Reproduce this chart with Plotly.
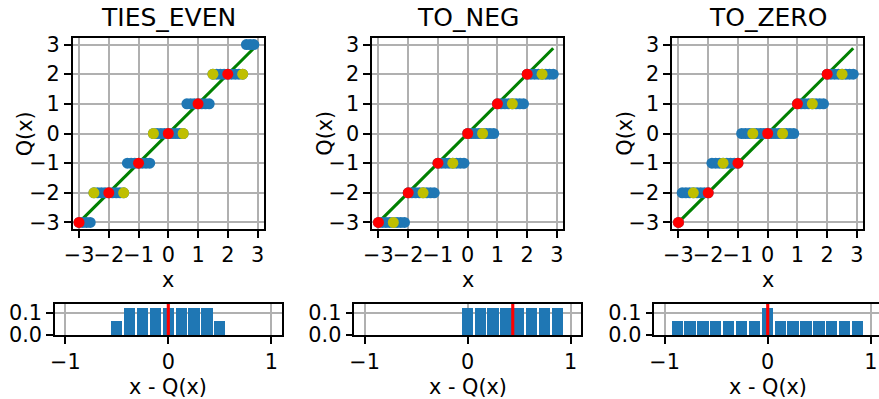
import plotly.graph_objects as go

# ---------------- data ----------------
MODES = ["TIES_EVEN", "TO_NEG", "TO_ZERO"]

X_SAMPLES = [-3.0, -2.875, -2.75, -2.625, -2.5, -2.375, -2.25, -2.125,
             -2.0, -1.875, -1.75, -1.625, -1.5, -1.375, -1.25, -1.125,
             -1.0, -0.875, -0.75, -0.625, -0.5, -0.375, -0.25, -0.125,
             0.0, 0.125, 0.25, 0.375, 0.5, 0.625, 0.75, 0.875,
             1.0, 1.125, 1.25, 1.375, 1.5, 1.625, 1.75, 1.875,
             2.0, 2.125, 2.25, 2.375, 2.5, 2.625, 2.75, 2.875]

Q_TIES_EVEN = [-3, -3, -3, -3, -2, -2, -2, -2,
               -2, -2, -2, -2, -2, -1, -1, -1,
               -1, -1, -1, -1, 0, 0, 0, 0,
               0, 0, 0, 0, 0, 1, 1, 1,
               1, 1, 1, 1, 2, 2, 2, 2,
               2, 2, 2, 2, 2, 3, 3, 3]
Q_TO_NEG = [-3, -3, -3, -3, -3, -3, -3, -3,
            -2, -2, -2, -2, -2, -2, -2, -2,
            -1, -1, -1, -1, -1, -1, -1, -1,
            0, 0, 0, 0, 0, 0, 0, 0,
            1, 1, 1, 1, 1, 1, 1, 1,
            2, 2, 2, 2, 2, 2, 2, 2]
Q_TO_ZERO = [-3, -2, -2, -2, -2, -2, -2, -2,
             -2, -1, -1, -1, -1, -1, -1, -1,
             -1, 0, 0, 0, 0, 0, 0, 0,
             0, 0, 0, 0, 0, 0, 0, 0,
             1, 1, 1, 1, 1, 1, 1, 1,
             2, 2, 2, 2, 2, 2, 2, 2]
Q_BLUE = [Q_TIES_EVEN, Q_TO_NEG, Q_TO_ZERO]

X_INT = [-3, -2, -1, 0, 1, 2]
Q_INT = [[-3, -2, -1, 0, 1, 2], [-3, -2, -1, 0, 1, 2], [-3, -2, -1, 0, 1, 2]]

X_HALF = [-2.5, -1.5, -0.5, 0.5, 1.5, 2.5]
Q_HALF = [[-2, -2, 0, 0, 2, 2], [-3, -2, -1, 0, 1, 2], [-2, -1, 0, 0, 1, 2]]

HIST_X = [
    [-0.5, -0.375, -0.25, -0.125, 0.0, 0.125, 0.25, 0.375, 0.5],
    [0.0, 0.125, 0.25, 0.375, 0.5, 0.625, 0.75, 0.875],
    [-0.875, -0.75, -0.625, -0.5, -0.375, -0.25, -0.125, 0.0,
     0.125, 0.25, 0.375, 0.5, 0.625, 0.75, 0.875],
]
HIST_Y = [
    [0.0625, 0.125, 0.125, 0.125, 0.125, 0.125, 0.125, 0.125, 0.0625],
    [0.125, 0.125, 0.125, 0.125, 0.125, 0.125, 0.125, 0.125],
    [0.0625, 0.0625, 0.0625, 0.0625, 0.0625, 0.0625, 0.0625, 0.125,
     0.0625, 0.0625, 0.0625, 0.0625, 0.0625, 0.0625, 0.0625],
]
MEANS = [0.0, 0.4375, 0.0]

TOP_TICKS = [-3, -2, -1, 0, 1, 2, 3]
TOP_TICKTEXT = ["\u22123", "\u22122", "\u22121", "0", "1", "2", "3"]
HIST_XTICKS = [-1, 0, 1]
HIST_XTICKTEXT = ["\u22121", "0", "1"]
HIST_YTICKS = [0.0, 0.1]
HIST_YTICKTEXT = ["0.0", "0.1"]

# ---------------- layout helpers ----------------
W, H = 879, 399
FONT = "DejaVu Sans"
BLUE, RED, YEL, GRN = "#1f77b4", "#ff0000", "#bfbf00", "#008000"


def px(v):
    return v / W


def py(v):
    return 1 - v / H


TOP_XD = [(72.8, 263.8), (372.2, 563.2), (672.2, 863.2)]
TOP_YD = (38.3, 228.7)
HIST_XD = [(55.0, 281.6), (354.4, 581.0), (654.4, 879.0)]
HIST_YD = (304.0, 335.0)
CENTERS = [168.3, 467.7, 767.7]
HIST_RANGES = [[-1.1, 1.1], [-1.1, 1.1], [-1.1, 1.08]]

fig = go.Figure()


def axis_common(**kw):
    d = dict(showgrid=True, gridcolor="#b0b0b0", gridwidth=1.6,
             showline=True, linecolor="black", linewidth=1.6, mirror=True,
             ticks="outside", ticklen=7, tickwidth=1.6, tickcolor="black",
             zeroline=False, automargin=False, fixedrange=True, tickangle=0,
             tickfont=dict(family=FONT, size=20.8, color="black"))
    d.update(kw)
    return d


layout_axes = {}
for i in range(3):
    tx = "x" if i == 0 else f"x{i + 1}"
    ty = "y" if i == 0 else f"y{i + 1}"
    hx = f"x{i + 4}"
    hy = f"y{i + 4}"

    fig.add_trace(go.Scatter(x=X_SAMPLES, y=X_SAMPLES, mode="lines",
                             line=dict(color=GRN, width=3.1),
                             xaxis=tx, yaxis=ty, hoverinfo="skip"))
    fig.add_trace(go.Scatter(x=X_SAMPLES, y=Q_BLUE[i], mode="markers",
                             marker=dict(color=BLUE, size=11, line=dict(width=0)),
                             xaxis=tx, yaxis=ty))
    fig.add_trace(go.Scatter(x=X_INT, y=Q_INT[i], mode="markers",
                             marker=dict(color=RED, size=11, line=dict(width=0)),
                             xaxis=tx, yaxis=ty))
    fig.add_trace(go.Scatter(x=X_HALF, y=Q_HALF[i], mode="markers",
                             marker=dict(color=YEL, size=11, line=dict(width=0)),
                             xaxis=tx, yaxis=ty))
    fig.add_trace(go.Bar(x=HIST_X[i], y=HIST_Y[i], width=0.11,
                         marker=dict(color=BLUE, line=dict(width=0)),
                         xaxis=hx, yaxis=hy))
    fig.add_shape(type="line", xref=hx, yref=f"{hy} domain",
                  x0=MEANS[i], x1=MEANS[i], y0=0, y1=1,
                  line=dict(color=RED, width=3.1))

    kx = "xaxis" if i == 0 else f"xaxis{i + 1}"
    ky = "yaxis" if i == 0 else f"yaxis{i + 1}"
    layout_axes[kx] = axis_common(domain=[px(TOP_XD[i][0]), px(TOP_XD[i][1])],
                                  range=[-3.21, 3.21], anchor=ty,
                                  tickvals=TOP_TICKS, ticktext=TOP_TICKTEXT)
    layout_axes[ky] = axis_common(domain=[py(TOP_YD[1]), py(TOP_YD[0])],
                                  range=[-3.21, 3.21], anchor=tx,
                                  tickvals=TOP_TICKS, ticktext=TOP_TICKTEXT)
    layout_axes[f"xaxis{i + 4}"] = axis_common(
        domain=[px(HIST_XD[i][0]), min(1.0, px(HIST_XD[i][1]))],
        range=HIST_RANGES[i], anchor=hy,
        tickvals=HIST_XTICKS, ticktext=HIST_XTICKTEXT)
    layout_axes[f"yaxis{i + 4}"] = axis_common(
        domain=[py(HIST_YD[1]), py(HIST_YD[0])],
        range=[0, 0.141], anchor=hx, mirror=(i != 2),
        tickvals=HIST_YTICKS, ticktext=HIST_YTICKTEXT)

annotations = []
for i in range(3):
    annotations.append(dict(text=MODES[i], x=px(CENTERS[i]), y=py(17.5),
                            xref="paper", yref="paper", showarrow=False,
                            xanchor="center", yanchor="middle",
                            font=dict(family=FONT, size=25, color="black")))
    annotations.append(dict(text="x", x=px(CENTERS[i]), y=py(279.5),
                            xref="paper", yref="paper", showarrow=False,
                            xanchor="center", yanchor="middle",
                            font=dict(family=FONT, size=20.8, color="black")))
    annotations.append(dict(text="x - Q(x)", x=px(CENTERS[i]), y=py(386.5),
                            xref="paper", yref="paper", showarrow=False,
                            xanchor="center", yanchor="middle",
                            font=dict(family=FONT, size=20.8, color="black")))
    annotations.append(dict(text="Q(x)", x=px(TOP_XD[i][0] - 48), y=py(133.5),
                            xref="paper", yref="paper", showarrow=False,
                            xanchor="center", yanchor="middle", textangle=-90,
                            font=dict(family=FONT, size=20.8, color="black")))

fig.update_layout(
    width=W, height=H, margin=dict(l=0, r=0, t=0, b=0, pad=0),
    paper_bgcolor="white", plot_bgcolor="white", showlegend=False,
    bargap=0, annotations=annotations, **layout_axes,
)

fig.write_html(
    "out.html",
    config={"displayModeBar": False},
    post_script="document.body.style.margin='0';document.body.style.overflow='hidden';",
)
